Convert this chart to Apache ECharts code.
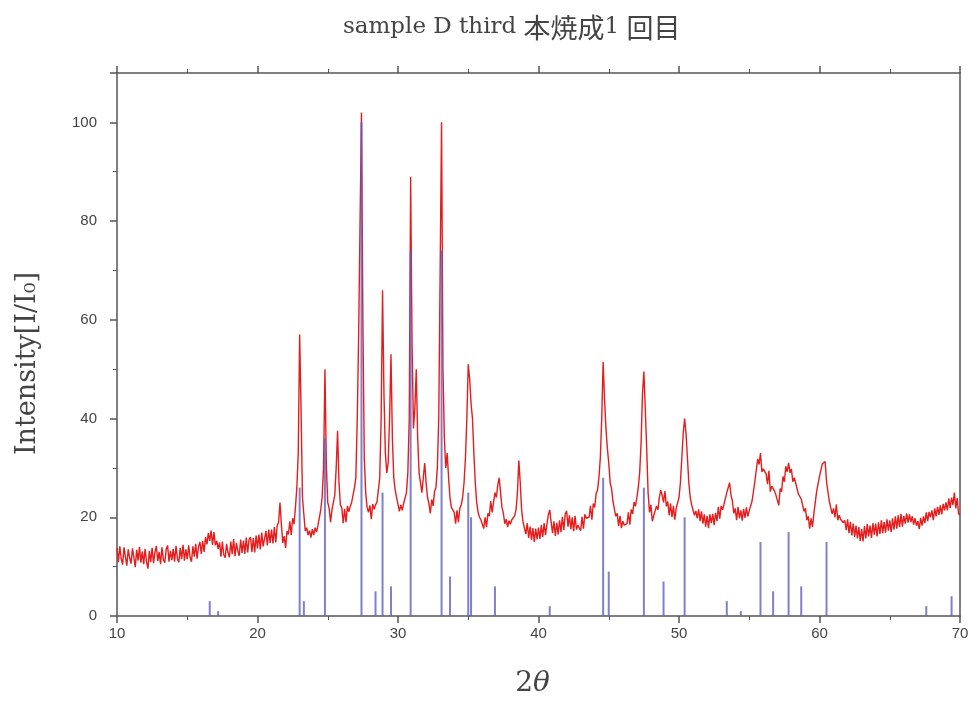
<!DOCTYPE html>
<html>
<head>
<meta charset="utf-8">
<title>sample D third</title>
<script src="https://cdn.jsdelivr.net/npm/echarts@6/dist/echarts.min.js"></script>
<style>
  html, body { margin: 0; padding: 0; background: #fff; }
  #chart { width: 979px; height: 709px; }
</style>
</head>
<body>
<div id="chart"></div>
<script>
// measured pattern: 2θ from 10 to 70, step 0.1
const thetaStart = 10
const thetaStep = 0.1
const intensity = [
  13.8, 10.9, 14.1, 11.6, 10.4, 13.9, 12.0, 10.2, 13.5, 11.8,
  10.6, 13.7, 11.9, 9.9, 13.4, 11.2, 14.0, 10.8, 13.1, 10.5,
  13.6, 11.0, 9.6, 13.2, 10.9, 13.8, 10.7, 12.9, 14.2, 11.1,
  13.0, 10.5, 13.9, 11.4, 10.8, 13.5, 14.3, 11.0, 13.2, 11.3,
  13.6, 11.0, 14.2, 11.6, 10.9, 13.8, 11.5, 14.4, 11.2, 13.5,
  11.5, 14.3, 11.9, 11.0, 14.1, 12.0, 14.6, 11.6, 14.0, 15.0,
  12.6, 15.2, 13.0, 16.0, 14.5, 16.8, 15.2, 17.3, 14.4, 17.0,
  14.3, 15.2, 13.6, 14.9, 12.0, 15.1, 12.4, 11.8, 14.6, 12.8,
  11.9, 15.1, 12.5, 15.6, 12.1, 14.8, 13.2, 12.2, 15.5, 12.8,
  15.3, 12.6, 15.9, 12.9, 15.5, 16.0, 13.0, 15.8, 12.9, 16.3,
  13.7, 16.5, 13.5, 16.9, 14.1, 13.9, 17.2, 14.3, 17.5, 14.8,
  17.5, 14.7, 18.0, 14.9, 18.3, 19.0, 23.0, 18.5, 14.8, 16.2,
  13.8, 17.2, 16.5, 19.2, 16.4, 19.8, 18.6, 22.0, 26.0, 33.0,
  57.0, 42.0, 24.0, 20.5, 17.2, 17.9, 16.4, 17.3, 15.9, 17.6,
  16.4, 17.9, 17.0, 18.3, 18.6, 21.5, 24.0, 30.0, 50.0, 30.5,
  23.0, 21.8, 19.0, 21.5, 21.2, 24.5, 30.0, 37.5, 27.0, 22.5,
  21.9, 18.8, 21.7, 19.0, 22.3, 21.1, 22.2, 23.0, 24.5, 26.0,
  28.0, 40.0, 57.0, 80.0, 102.0, 60.0, 32.0, 25.0, 22.0, 21.0,
  22.4, 19.6, 22.7, 21.6, 22.5, 23.0, 25.5, 28.0, 40.0, 66.0,
  45.0, 33.0, 29.0, 31.0, 40.0, 53.0, 36.0, 28.0, 25.5, 24.0,
  23.8, 21.2, 22.5, 21.4, 22.8, 23.0, 25.0, 29.0, 40.0, 89.0,
  55.0, 38.0, 42.0, 50.0, 36.0, 29.0, 27.0, 25.0, 28.0, 31.0,
  27.0, 24.0, 22.8, 20.8, 23.6, 22.3, 25.2, 26.0, 30.0, 40.0,
  70.0, 100.0, 50.0, 36.0, 30.0, 33.0, 28.0, 24.0, 22.0, 21.5,
  21.0, 18.7, 21.4, 19.0, 21.8, 22.5, 24.0, 27.0, 32.0, 40.0,
  51.0, 48.0, 43.0, 40.0, 33.0, 27.0, 23.0, 21.0, 20.0, 19.5,
  19.9, 17.7, 20.0, 18.0, 20.8, 20.2, 23.3, 21.0, 23.0, 25.0,
  24.0, 26.5, 28.0, 25.0, 22.0, 20.8, 18.7, 19.6, 18.0, 19.3,
  18.6, 19.5, 19.4, 20.3, 21.5, 25.0, 31.5, 27.0, 21.5, 19.0,
  19.0, 16.6, 18.8, 15.8, 18.1, 15.4, 17.8, 15.0, 17.7, 15.5,
  17.9, 15.6, 18.4, 16.0, 18.8, 16.4, 18.6, 20.5, 21.5, 19.0,
  16.8, 19.2, 16.2, 18.9, 16.5, 19.4, 17.0, 20.1, 17.4, 20.6,
  21.3, 18.1, 20.4, 17.6, 20.0, 17.2, 20.3, 17.5, 18.4, 18.0,
  17.3, 20.1, 17.7, 20.6, 19.8, 20.2, 20.0, 22.3, 19.5, 22.8,
  22.0, 24.8, 25.5, 28.0, 32.0, 40.0, 51.5, 44.0, 38.0, 34.0,
  31.0, 27.0, 25.8, 23.2, 22.8, 20.2, 20.8, 18.2, 20.3, 17.8,
  19.2, 18.4, 18.8, 18.7, 21.0, 18.5, 21.6, 20.7, 23.1, 22.2,
  24.0, 26.0, 29.0, 35.0, 45.0, 49.5, 42.0, 34.0, 25.0, 21.0,
  22.5, 19.2, 20.3, 20.0, 22.3, 21.5, 24.0, 25.5, 24.5, 23.0,
  25.3, 22.2, 23.2, 20.4, 22.8, 20.0, 22.3, 19.5, 21.8, 21.7,
  24.0, 27.0, 32.0, 37.0, 40.0, 37.0, 32.0, 27.0, 24.0, 22.5,
  22.8, 20.4, 21.3, 19.8, 21.6, 19.2, 21.2, 18.7, 20.6, 18.1,
  20.3, 17.8, 20.6, 18.8, 20.7, 18.4, 20.9, 19.2, 22.1, 19.7,
  22.3, 21.5, 22.6, 22.2, 25.0, 24.7, 27.0, 24.5, 23.3, 20.8,
  21.8, 19.4, 22.1, 19.8, 21.4, 19.3, 21.7, 19.9, 22.0, 20.2,
  21.3, 20.9, 23.3, 23.2, 27.3, 27.7, 31.8, 30.7, 33.0, 29.2,
  29.8, 29.7, 28.8, 26.7, 29.4, 25.2, 26.3, 26.0, 25.3, 24.5,
  24.8, 22.4, 25.8, 25.2, 28.3, 27.2, 30.3, 29.2, 31.0, 29.0,
  29.8, 27.2, 28.0, 27.0, 26.8, 24.7, 24.8, 23.7, 23.8, 21.2,
  21.8, 19.4, 20.2, 17.7, 19.8, 18.0, 20.8, 21.2, 25.3, 25.2,
  28.3, 28.2, 30.8, 30.7, 31.3, 27.2, 26.8, 23.2, 23.3, 20.7,
  21.8, 20.0, 22.6, 19.4, 20.4, 19.6, 19.7, 18.9, 19.4, 17.4,
  19.6, 16.8, 19.1, 16.3, 18.7, 16.0, 18.3, 15.7, 18.0, 15.2,
  17.6, 15.1, 18.2, 15.7, 18.6, 16.1, 18.3, 15.8, 18.8, 16.5,
  18.7, 16.1, 19.0, 16.6, 19.4, 16.8, 19.1, 16.9, 19.6, 17.3,
  19.4, 17.0, 19.8, 17.5, 20.2, 17.7, 20.4, 18.0, 20.7, 18.1,
  20.3, 18.7, 20.8, 18.9, 20.6, 19.0, 20.2, 18.5, 19.8, 18.3,
  19.2, 17.6, 19.9, 18.3, 20.2, 18.8, 21.0, 19.2, 21.1, 20.0,
  21.4, 19.4, 21.8, 20.2, 22.1, 20.5, 22.4, 20.6, 22.7, 21.4,
  23.0, 21.4, 23.8, 21.9, 24.0, 22.5, 25.0, 21.8, 23.9, 20.7,
  20.5
]

// reference card lines (position, relative intensity)
const refTheta = [16.6, 17.2, 23.0, 23.3, 24.8, 27.4, 28.4, 28.9, 29.5, 30.9,
  33.1, 33.7, 35.0, 35.2, 36.9, 40.8, 44.6, 45.0, 47.5, 48.9,
  50.4, 53.4, 54.4, 55.8, 56.7, 57.8, 58.7, 60.5, 67.6, 69.4]
const refInt = [3, 1, 26, 3, 36, 100, 5, 25, 6, 74,
  74, 8, 25, 20, 6, 2, 28, 9, 26, 7,
  20, 3, 1, 15, 5, 17, 6, 15, 2, 4]

const xTicks = [10, 20, 30, 40, 50, 60, 70]
const yTicks = [0, 20, 40, 60, 80, 100]

const measured = intensity.map((v, i) => [+(thetaStart + i * thetaStep).toFixed(1), v])
const sticks = refTheta.map((t, i) => [t, refInt[i]])

const axisColor = '#555'
const labelFont = { fontFamily: 'Liberation Sans', fontSize: 15, color: '#444' }

const chart = echarts.init(document.getElementById('chart'), null, { renderer: 'canvas' })

const option = {
  animation: false,
  backgroundColor: '#fff',
  title: {
    text: '{a|sample D third }{b|本焼成}{a|1 }{b|回目}',
    left: 338,
    top: 9,
    textStyle: {
      fontWeight: 'normal',
      rich: {
        a: { fontFamily: 'DejaVu Serif', fontSize: 23, fontWeight: 'normal', color: '#444' },
        b: { fontFamily: 'Noto Sans CJK JP', fontSize: 27, fontWeight: 'normal', color: '#444' }
      }
    }
  },
  grid: { left: 117, right: 19, top: 73, bottom: 93 },
  xAxis: [
    {
      type: 'value',
      min: xTicks[0],
      max: xTicks[xTicks.length - 1],
      interval: 10,
      position: 'bottom',
      name: '2{it|θ}',
      nameLocation: 'middle',
      nameGap: 54,
      nameTextStyle: {
        fontFamily: 'DejaVu Serif',
        fontSize: 28,
        color: '#444',
        padding: [0, 12, 0, 0],
        rich: { it: { fontFamily: 'DejaVu Serif', fontStyle: 'italic', fontSize: 28, color: '#444' } }
      },
      axisLine: { onZero: false, lineStyle: { color: axisColor, width: 1.5 } },
      axisTick: { length: 7, lineStyle: { color: axisColor, width: 1.5 } },
      minorTick: { show: true, splitNumber: 2, length: 4, lineStyle: { color: axisColor } },
      axisLabel: { ...labelFont, margin: 10 },
      splitLine: { show: false }
    },
    {
      type: 'value',
      min: xTicks[0],
      max: xTicks[xTicks.length - 1],
      interval: 10,
      position: 'top',
      axisLine: { onZero: false, lineStyle: { color: axisColor, width: 1.5 } },
      axisTick: { length: 7, lineStyle: { color: axisColor, width: 1.5 } },
      minorTick: { show: true, splitNumber: 2, length: 4, lineStyle: { color: axisColor } },
      axisLabel: { show: false },
      splitLine: { show: false }
    }
  ],
  yAxis: [
    {
      type: 'value',
      min: yTicks[0],
      max: 110,
      interval: 20,
      position: 'left',
      name: 'Intensity[I/I₀]',
      nameLocation: 'middle',
      nameGap: 76,
      nameTextStyle: {
        fontFamily: 'DejaVu Serif',
        fontSize: 27,
        color: '#444',
        padding: [0, 38, 0, 0]
      },
      axisLine: { show: true, onZero: false, lineStyle: { color: axisColor, width: 1.5 } },
      axisTick: { show: true, length: 7, lineStyle: { color: axisColor, width: 1.5 } },
      minorTick: { show: true, splitNumber: 2, length: 4, lineStyle: { color: axisColor } },
      axisLabel: { ...labelFont, margin: 20, showMaxLabel: false },
      splitLine: { show: false }
    },
    {
      type: 'value',
      min: 0,
      max: 110,
      position: 'right',
      axisLine: { show: true, onZero: false, lineStyle: { color: axisColor, width: 1.5 } },
      axisTick: { show: false },
      axisLabel: { show: false },
      splitLine: { show: false }
    }
  ],
  series: [
    {
      name: 'measured',
      type: 'line',
      data: measured,
      showSymbol: false,
      lineStyle: { color: '#e61c1c', width: 1.4 },
      z: 2
    },
    {
      name: 'reference',
      type: 'custom',
      data: sticks,
      z: 3,
      renderItem: (params, api) => {
        const top = api.coord([api.value(0), api.value(1)])
        const base = api.coord([api.value(0), 0])
        return {
          type: 'line',
          shape: { x1: top[0], y1: top[1], x2: base[0], y2: base[1] },
          style: { stroke: '#5f5fc0', lineWidth: 2, opacity: 0.8 }
        }
      }
    }
  ]
}

chart.setOption(option)
</script>
</body>
</html>
